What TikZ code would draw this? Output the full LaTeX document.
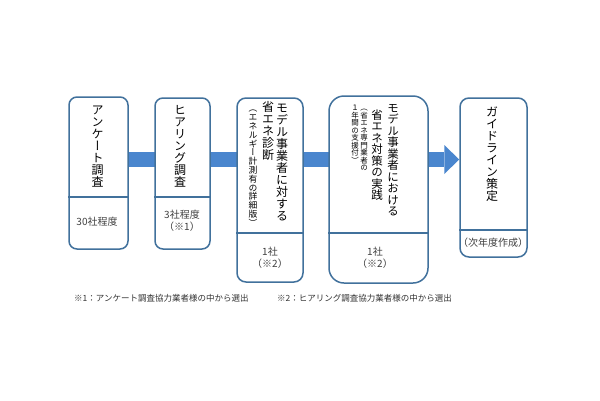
\documentclass[tikz,border=0pt]{standalone}
\usepackage{fontspec}
\newfontfamily\jp{Noto Sans CJK JP}
\newfontfamily\jpv[RawFeature=+vert]{Noto Sans CJK JP}
\usetikzlibrary{arrows.meta,backgrounds}
\definecolor{edgeblue}{RGB}{65,113,156}
\definecolor{flowblue}{RGB}{74,134,206}
% one character per em box, stacked top to bottom
\newcommand\tatechar[1]{\hbox to 1em{\hss\vrule width 0pt height .88em depth .12em\relax#1\hss}}
\def\tatego#1{\ifx\relax#1\else\tatechar{#1}\expandafter\tatego\fi}
\newcommand\tate[1]{\vbox{\offinterlineskip\tatego#1\relax}}
\tikzset{
  stage/.style={draw=edgeblue, line width=1.5pt, fill=white, rounded corners=8pt, inner sep=0pt},
  rule/.style={draw=edgeblue, line width=1.3pt},
  vlabel/.style={anchor=north, inner sep=0pt, font=\jpv\fontsize{#1}{#1}\selectfont},
  vlabel/.default=12,
  sublabel/.style={align=center, inner sep=0pt, text=black!75, font=\jp\fontsize{10}{12}\selectfont},
  note/.style={anchor=west, inner sep=0pt, text=black!80, font=\jp\fontsize{8.5}{10}\selectfont},
  flow/.style={draw=flowblue, line width=15pt, -{Triangle[length=15pt, width=29pt, line width=0pt]}}
}
\begin{document}
\begin{tikzpicture}[x=1pt, y=-1pt]
    \useasboundingbox (0,0) rectangle (600,400);
    % Stages
    \node[stage, minimum width=59pt, minimum height=152pt] (b1) at (98.5,173) {};
    \node[stage, minimum width=55pt, minimum height=151pt] (b2) at (182.5,173.5) {};
    \node[stage, minimum width=66pt, minimum height=184pt, rounded corners=9pt] (b3) at (270,190) {};
    \node[stage, minimum width=99pt, minimum height=187pt, rounded corners=15pt] (b4) at (378.5,189.5) {};
    \node[stage, minimum width=67pt, minimum height=159pt, rounded corners=9pt] (b5) at (493.5,177.5) {};

    % Dividers
    \draw[rule] (b1.west |- 0,197) -- (b1.east |- 0,197);
    \draw[rule] (b2.west |- 0,197) -- (b2.east |- 0,197);
    \draw[rule] (b3.west |- 0,233) -- (b3.east |- 0,233);
    \draw[rule] (b4.west |- 0,233) -- (b4.east |- 0,233);
    \draw[rule] (b5.west |- 0,230) -- (b5.east |- 0,230);

    % Flow arrow behind the stages
    \begin{scope}[on background layer]
        \fill[white] (0,0) rectangle (600,400);
        \draw[flow] (b1.east |- 0,159.5) -- (b5.west |- 0,159.5);
    \end{scope}

    % Vertical titles
    \node[vlabel] (t1) at (97.5,104) {\tate{アンケート調査}};
    \node[vlabel] (t2) at (180,104) {\tate{ヒアリング調査}};
    \node[vlabel] (t3a) at (282,102) {\tate{モデル事業者に対する}};
    \node[vlabel] (t3b) at (268,101) {\tate{省エネ診断}};
    \node[vlabel=8.8] (t3c) at (253,104) {\tate{（エネルギー計測有の詳細版）}};
    \node[vlabel=11.5] (t4a) at (393,102) {\tate{モデル事業者における}};
    \node[vlabel=11.5] (t4b) at (377,109) {\tate{省エネ対策の実践}};
    \node[vlabel=7.5] (t4c) at (364,104) {\tate{（省エネ専門業者の}};
    \node[vlabel=7.5] (t4d) at (355,104) {\tate{１年間の支援付）}};
    \node[vlabel] (t5) at (492,106) {\tate{ガイドライン策定}};

    % Counts
    \node[sublabel] (s1) at (97,222) {30社程度};
    \node[sublabel] (s2) at (182,221) {3社程度\\（※1）};
    \node[sublabel] (s3) at (270,257.5) {1社\\（※2）};
    \node[sublabel] (s4) at (375,257.5) {1社\\（※2）};
    \node[sublabel] (s5) at (493,243) {（次年度作成）};

    % Notes
    \node[note] (n1) at (74,298) {※1：アンケート調査協力業者様の中から選出};
    \node[note] (n2) at (277,298) {※2：ヒアリング調査協力業者様の中から選出};
\end{tikzpicture}
\end{document}
